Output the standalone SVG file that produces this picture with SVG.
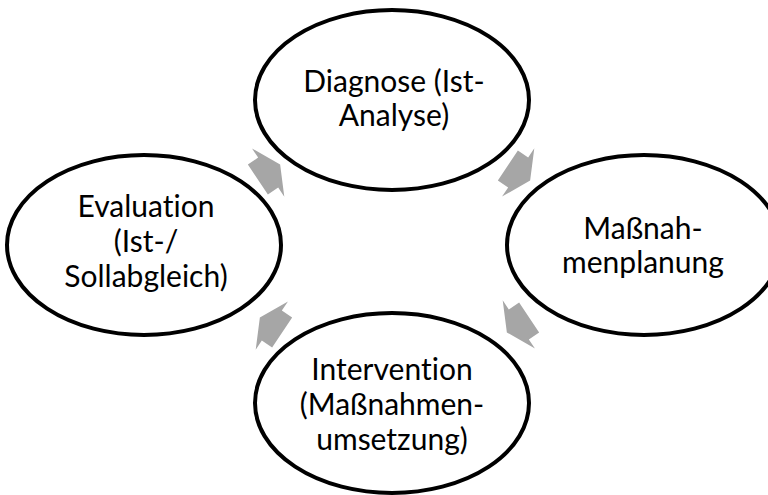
<svg xmlns="http://www.w3.org/2000/svg" width="768" height="495" viewBox="0 0 768 495">
<defs>
<style>
.node ellipse{fill:#ffffff;stroke:#000000;stroke-width:4}
.node text{font-family:Lato,"Open Sans","Liberation Sans",sans-serif;font-size:30px;fill:#000000;text-anchor:middle;font-variant-ligatures:none;font-feature-settings:"liga" 0,"clig" 0}
.arrow{fill:#A6A6A6;stroke:none}
</style>
<polygon id="arr" points="-13.4,-18 -1,-18 -1,-29 13.4,0 -1,29 -1,18 -13.4,18"/>
</defs>
<rect width="768" height="495" fill="#ffffff"/>
<g id="connectors">
<use href="#arr" class="arrow" transform="translate(269,172) rotate(-33.8)"/>
<use href="#arr" class="arrow" transform="translate(519,173) rotate(33.8)"/>
<use href="#arr" class="arrow" transform="translate(518,325) rotate(146.2)"/>
<use href="#arr" class="arrow" transform="translate(271,325) rotate(213.8)"/>
</g>
<g id="diagnose" class="node">
<ellipse cx="392" cy="100" rx="137" ry="90"/>
<text x="394" y="92">Diagnose (Ist-</text>
<text x="394" y="126">Analyse)</text>
</g>
<g id="massnahmenplanung" class="node">
<ellipse cx="644" cy="245" rx="137" ry="90"/>
<text x="643" y="239">Maßnah-</text>
<text x="643" y="273">menplanung</text>
</g>
<g id="intervention" class="node">
<ellipse cx="392" cy="403" rx="137" ry="90"/>
<text x="392" y="380">Intervention</text>
<text x="392" y="415">(Maßnahmen-</text>
<text x="392" y="450">umsetzung)</text>
</g>
<g id="evaluation" class="node">
<ellipse cx="144" cy="245" rx="137" ry="90"/>
<text x="146" y="217">Evaluation</text>
<text x="146" y="252">(Ist-/</text>
<text x="146" y="287">Sollabgleich)</text>
</g>
</svg>
